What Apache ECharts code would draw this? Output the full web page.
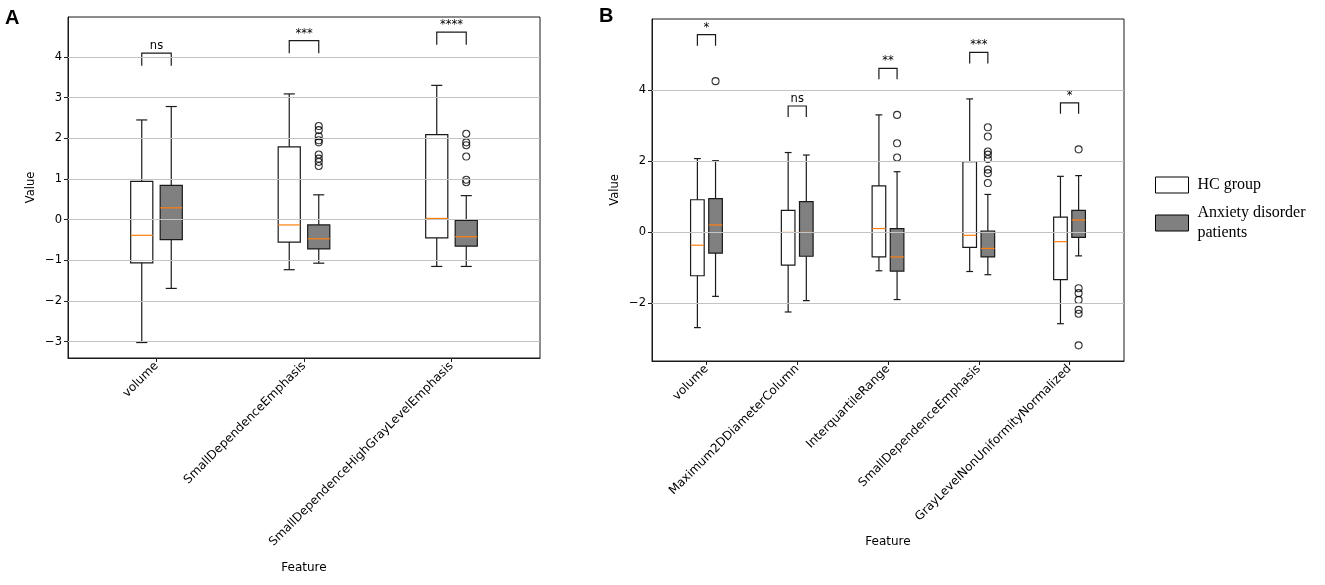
<!DOCTYPE html>
<html><head><meta charset="utf-8">
<script src="https://cdn.jsdelivr.net/npm/echarts@6/dist/echarts.min.js"></script>
<style>html,body{margin:0;padding:0;background:#fff}#c{width:1325px;height:585px}</style>
</head><body><div id="c"></div><script>
// ---- Panel A data ----
const catsA = ['volume', 'SmallDependenceEmphasis', 'SmallDependenceHighGrayLevelEmphasis'];
// [min, Q1, median, Q3, max]
const hcA = [[-3.02, -1.06, -0.385, 0.94, 2.45], [-1.23, -0.55, -0.13, 1.79, 3.09], [-1.15, -0.45, 0.03, 2.09, 3.30]];
const ptA = [[-1.69, -0.49, 0.29, 0.84, 2.78], [-1.07, -0.72, -0.47, -0.13, 0.61], [-1.15, -0.65, -0.42, -0.02, 0.59]];
const ptOutA = [[], [2.30, 2.20, 2.05, 1.95, 1.90, 1.60, 1.50, 1.42, 1.32], [2.11, 1.90, 1.83, 1.55, 0.98, 0.92]];
const sigA = ['ns', '***', '****'];
const brA = [3.78, 4.09, 4.30];
const yTicksA = [-3, -2, -1, 0, 1, 2, 3, 4];

// ---- Panel B data ----
const catsB = ['volume', 'Maximum2DDiameterColumn', 'InterquartileRange', 'SmallDependenceEmphasis', 'GrayLevelNonUniformityNormalized'];
const hcB = [[-2.68, -1.22, -0.36, 0.92, 2.08], [-2.24, -0.92, 0.00, 0.62, 2.25], [-1.08, -0.69, 0.11, 1.31, 3.31], [-1.10, -0.42, -0.08, 1.99, 3.76], [-2.57, -1.33, -0.26, 0.43, 1.58]];
const ptB = [[-1.80, -0.58, 0.21, 0.95, 2.02], [-1.92, -0.67, 0.00, 0.87, 2.18], [-1.89, -1.09, -0.69, 0.11, 1.71], [-1.19, -0.69, -0.45, 0.04, 1.07], [-0.66, -0.14, 0.35, 0.62, 1.60]];
const ptOutB = [[4.26], [], [3.31, 2.51, 2.11], [2.96, 2.70, 2.28, 2.19, 2.07, 1.77, 1.67, 1.39], [2.34, -1.57, -1.71, -1.90, -2.18, -2.29, -3.18]];
const sigB = ['*', 'ns', '**', '***', '*'];
const brB = [5.26, 3.25, 4.31, 4.76, 3.34];
const yTicksB = [-2, 0, 2, 4];

const seriesNames = ['HC group', 'Anxiety disorder patients'];

const FONT = 'DejaVu Sans';
const FS = 11.5;
const FSX = 12;
const EDGE = '#1a1a1a';

function boxRender(fill) {
  return function (params, api) {
    const x = api.value(0);
    const w = api.size([0.15, 0])[0];
    const p = k => api.coord([x, api.value(k)]);
    const pMin = p(1), pQ1 = p(2), pMed = p(3), pQ3 = p(4), pMax = p(5);
    const cx = pMin[0], hw = w / 2, cw = w / 4;
    const ls = { stroke: EDGE, lineWidth: 1.2, fill: null };
    return {
      type: 'group', children: [
        { type: 'line', shape: { x1: cx, y1: pMin[1], x2: cx, y2: pQ1[1] }, style: ls },
        { type: 'line', shape: { x1: cx, y1: pQ3[1], x2: cx, y2: pMax[1] }, style: ls },
        { type: 'line', shape: { x1: cx - cw, y1: pMin[1], x2: cx + cw, y2: pMin[1] }, style: ls },
        { type: 'line', shape: { x1: cx - cw, y1: pMax[1], x2: cx + cw, y2: pMax[1] }, style: ls },
        { type: 'rect', shape: { x: cx - hw, y: pQ3[1], width: w, height: pQ1[1] - pQ3[1] }, style: { fill: fill, stroke: EDGE, lineWidth: 1.2 } },
        { type: 'line', shape: { x1: cx - hw, y1: pMed[1], x2: cx + hw, y2: pMed[1] }, style: { stroke: '#ff7f0e', lineWidth: 1.2 } }
      ]
    };
  };
}

function bracketRender(labels) {
  return function (params, api) {
    const x = api.value(0);
    const a = api.coord([x - 0.1, api.value(1)]);
    const b = api.coord([x - 0.1, api.value(2)]);
    const c = api.coord([x + 0.1, api.value(2)]);
    const d = api.coord([x + 0.1, api.value(1)]);
    const t = api.coord([x, api.value(2)]);
    return {
      type: 'group', children: [
        { type: 'polyline', shape: { points: [a, b, c, d] }, style: { stroke: EDGE, lineWidth: 1.2, fill: null } },
        { type: 'text', x: t[0], y: t[1] - 1, style: { text: labels[api.value(3)], fill: '#000', font: FS + 'px "' + FONT + '"', align: 'center', verticalAlign: 'bottom' } }
      ]
    };
  };
}

function minus(v) { return String(v).replace('-', '\u2212'); }

function panel(gi, cats, hc, pt, ptOut, sig, br, yTicks) {
  const s = [];
  s.push({
    type: 'line', xAxisIndex: gi, yAxisIndex: gi, data: [], z: 1, silent: true,
    markLine: {
      silent: true, symbol: ['none', 'none'], label: { show: false }, animation: false,
      lineStyle: { color: '#c4c4c4', width: 1, type: 'solid' },
      emphasis: { disabled: true },
      data: yTicks.map(v => ({ yAxis: v }))
    }
  });
  s.push({
    name: seriesNames[0], type: 'custom', xAxisIndex: gi, yAxisIndex: gi, z: 3,
    renderItem: boxRender('rgba(0,0,0,0)'), encode: { x: 0, y: [1, 2, 3, 4, 5] },
    data: hc.map((d, i) => [i + 1 - 0.1].concat(d))
  });
  s.push({
    name: seriesNames[1], type: 'custom', xAxisIndex: gi, yAxisIndex: gi, z: 3,
    renderItem: boxRender('#808080'), encode: { x: 0, y: [1, 2, 3, 4, 5] },
    data: pt.map((d, i) => [i + 1 + 0.1].concat(d))
  });
  s.push({
    type: 'scatter', xAxisIndex: gi, yAxisIndex: gi, z: 4, symbol: 'circle', symbolSize: 7,
    itemStyle: { color: 'rgba(0,0,0,0)', borderColor: '#000', borderWidth: 1.1 },
    data: ptOut.flatMap((arr, i) => arr.map(v => [i + 1 + 0.1, v]))
  });
  s.push({
    type: 'custom', xAxisIndex: gi, yAxisIndex: gi, z: 4,
    renderItem: bracketRender(sig), encode: { x: 0, y: [1, 2] },
    data: br.map((b, i) => [i + 1, b, b + 0.31, i])
  });
  return s;
}

function xAxisCfg(gi, cats, nameGap) {
  const ticks = cats.map((c, i) => i + 1);
  return {
    gridIndex: gi, type: 'value', min: 0.4, max: cats.length + 0.6,
    axisLine: { show: true, onZero: false, lineStyle: { color: EDGE, width: 1 } },
    axisTick: { show: true, customValues: ticks, length: 4, lineStyle: { color: EDGE } },
    axisLabel: {
      customValues: ticks, rotate: 45, margin: 6, color: '#000', fontFamily: FONT, fontSize: FSX,
      formatter: v => cats[Math.round(v) - 1]
    },
    splitLine: { show: false },
    name: 'Feature', nameLocation: 'middle', nameGap: nameGap,
    nameTextStyle: { color: '#000', fontFamily: FONT, fontSize: FSX }
  };
}
function yAxisCfg(gi, min, max, ticks) {
  return {
    gridIndex: gi, type: 'value', min: min, max: max,
    axisLine: { show: true, onZero: false, lineStyle: { color: EDGE, width: 1 } },
    axisTick: { show: true, customValues: ticks, length: 4, lineStyle: { color: EDGE } },
    axisLabel: { customValues: ticks, margin: 6, color: '#000', fontFamily: FONT, fontSize: FS, formatter: v => minus(v) },
    splitLine: { show: false },
    name: 'Value', nameLocation: 'middle', nameGap: 31,
    nameTextStyle: { color: '#000', fontFamily: FONT, fontSize: FS }
  };
}

const option = {
  animation: false,
  backgroundColor: '#fff',
  grid: [
    { left: 68, top: 17, width: 472, height: 341, show: true, borderColor: EDGE, borderWidth: 1, backgroundColor: 'rgba(0,0,0,0)' },
    { left: 652, top: 19, width: 472, height: 342, show: true, borderColor: EDGE, borderWidth: 1, backgroundColor: 'rgba(0,0,0,0)' }
  ],
  xAxis: [xAxisCfg(0, catsA, 204), xAxisCfg(1, catsB, 175)],
  yAxis: [yAxisCfg(0, -3.40, 4.98, yTicksA), yAxisCfg(1, -3.62, 6.01, yTicksB)],
  legend: {
    orient: 'vertical', left: 1150, top: 170, itemWidth: 33, itemHeight: 16, itemGap: 8,
    selectedMode: false,
    data: [
      { name: seriesNames[0], icon: 'rect', itemStyle: { color: '#ffffff', borderColor: '#000', borderWidth: 1 } },
      { name: seriesNames[1], icon: 'rect', itemStyle: { color: '#808080', borderColor: '#000', borderWidth: 1 } }
    ],
    formatter: n => n === seriesNames[1] ? 'Anxiety disorder\npatients' : n,
    textStyle: { fontFamily: 'Liberation Serif', fontSize: 16, color: '#000', lineHeight: 20, padding: [0, 0, 0, 4] }
  },
  graphic: [
    { type: 'text', left: 5, top: 8, style: { text: 'A', font: 'bold 20px "Liberation Sans"', fill: '#000' } },
    { type: 'text', left: 599, top: 6, style: { text: 'B', font: 'bold 20px "Liberation Sans"', fill: '#000' } }
  ],
  series: panel(0, catsA, hcA, ptA, ptOutA, sigA, brA, yTicksA)
    .concat(panel(1, catsB, hcB, ptB, ptOutB, sigB, brB, yTicksB))
};

const chart = echarts.init(document.getElementById('c'), null, { renderer: 'canvas' });
chart.setOption(option);
</script></body></html>
